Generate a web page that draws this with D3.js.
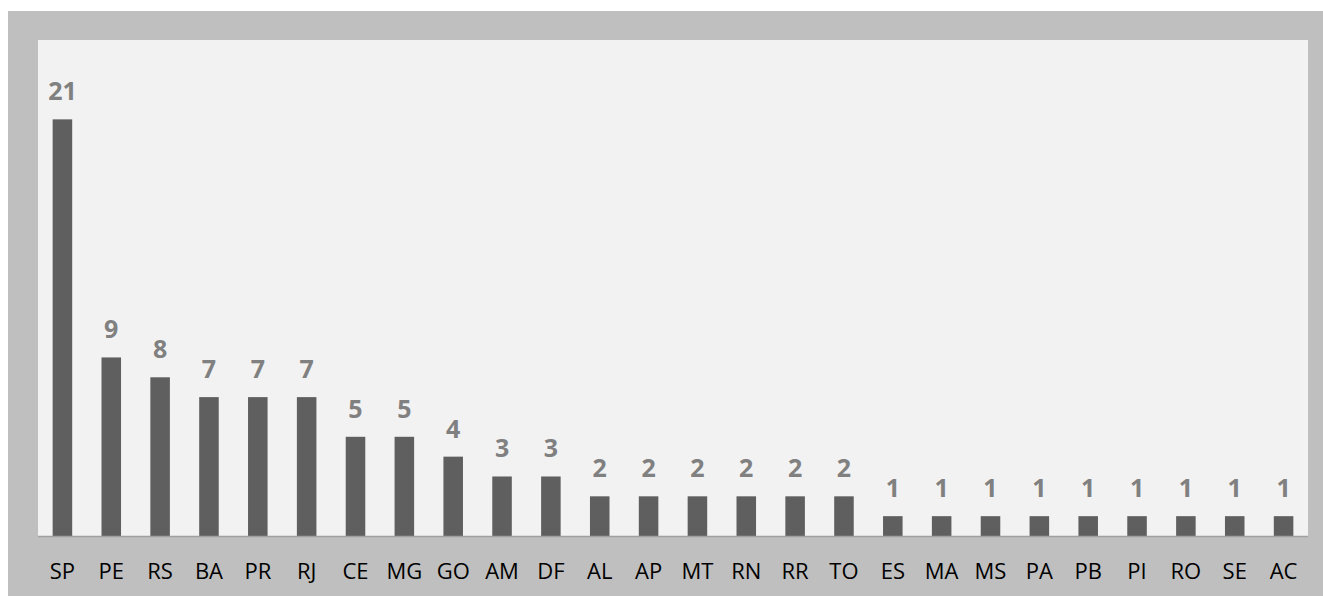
<!DOCTYPE html>
<html>
<head>
<meta charset="utf-8">
<script src="https://cdn.jsdelivr.net/npm/d3@7"></script>
<style>
  body { margin: 0; background: #ffffff; }
  svg { display: block; }
</style>
</head>
<body>
<div id="chart"></div>
<script>
// State codes and counts
const states = ['SP', 'PE', 'RS', 'BA', 'PR', 'RJ', 'CE', 'MG', 'GO', 'AM', 'DF', 'AL', 'AP',
  'MT', 'RN', 'RR', 'TO', 'ES', 'MA', 'MS', 'PA', 'PB', 'PI', 'RO', 'SE', 'AC'];
const counts = [21, 9, 8, 7, 7, 7, 5, 5, 4, 3, 3, 2, 2, 2, 2, 2, 2, 1, 1, 1, 1, 1, 1, 1, 1, 1];
const yMax = 25;

const W = 1323, H = 596;
const plot = { left: 38, top: 40, right: 1308, bottom: 536 };

const svg = d3.select('#chart')
  .append('svg')
  .attr('width', W)
  .attr('height', H);

// outer frame + plot area
svg.append('rect')
  .attr('x', 8).attr('y', 11)
  .attr('width', W - 8).attr('height', H - 11)
  .attr('fill', '#bfbfbf');

svg.append('rect')
  .attr('x', plot.left).attr('y', plot.top)
  .attr('width', plot.right - plot.left).attr('height', plot.bottom - plot.top)
  .attr('fill', '#f2f2f2');

const data = states.map((s, i) => ({ state: s, value: counts[i] }));

const x = d3.scaleBand()
  .domain(states)
  .range([plot.left, plot.right])
  .paddingInner(0.6)
  .paddingOuter(0.3);

const y = d3.scaleLinear()
  .domain([0, yMax])
  .range([plot.bottom, plot.top]);

// bars
svg.append('g')
  .selectAll('rect')
  .data(data)
  .join('rect')
  .attr('x', d => x(d.state))
  .attr('y', d => y(d.value))
  .attr('width', x.bandwidth())
  .attr('height', d => y(0) - y(d.value))
  .attr('fill', '#5f5f5f');

// value labels
svg.append('g')
  .selectAll('text')
  .data(data)
  .join('text')
  .attr('x', d => x(d.state) + x.bandwidth() / 2)
  .attr('y', d => y(d.value) - 19)
  .attr('text-anchor', 'middle')
  .attr('font-family', 'Open Sans, sans-serif')
  .attr('font-weight', 'bold')
  .attr('font-size', 25)
  .attr('fill', '#808080')
  .text(d => d.value);

// x axis
const xAxis = svg.append('g')
  .attr('transform', 'translate(0,' + plot.bottom + ')')
  .call(d3.axisBottom(x).tickSize(0).tickPadding(0));

xAxis.select('.domain')
  .attr('stroke', '#a0a0a0')
  .attr('stroke-width', 1.5)
  .attr('d', 'M' + plot.left + ',0.5H' + plot.right);

xAxis.selectAll('text')
  .attr('dy', null)
  .attr('y', 43)
  .attr('font-family', 'Open Sans, sans-serif')
  .attr('font-size', 22)
  .attr('fill', '#000000');
</script>
</body>
</html>
